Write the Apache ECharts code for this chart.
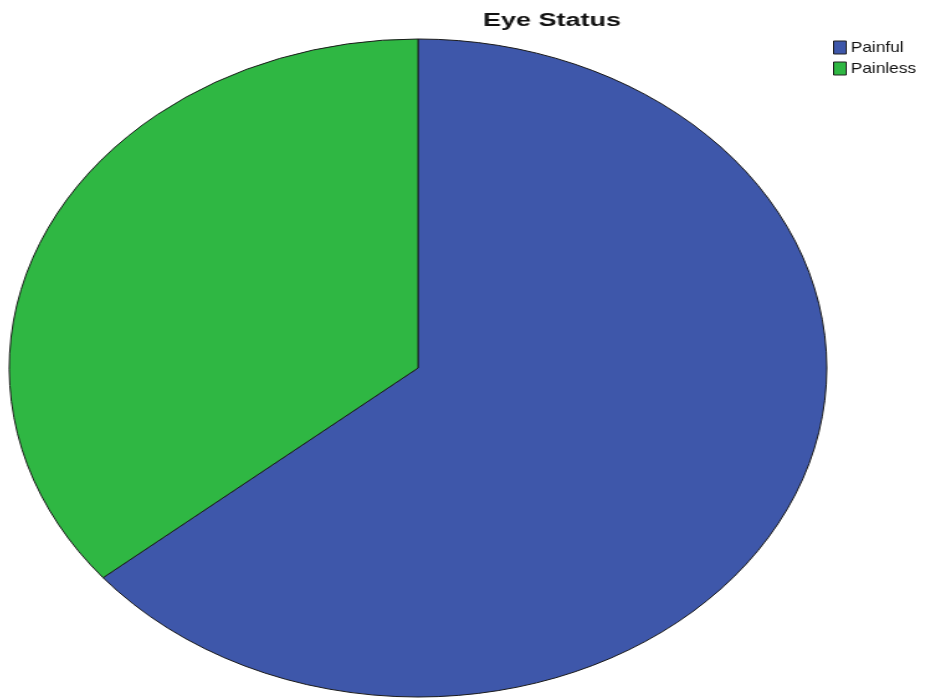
<!DOCTYPE html>
<html>
<head>
<meta charset="utf-8">
<script src="https://cdn.jsdelivr.net/npm/echarts@6/dist/echarts.min.js"></script>
<style>
  html, body { margin: 0; padding: 0; background: #fff; }
  #wrap { position: relative; width: 934px; height: 700px; overflow: hidden; }
  /* the reference is stretched sideways: pie drawn as a circle then widened into the ellipse */
  #pie { position: absolute; left: 88px; top: 38px; width: 660px; height: 660px;
         transform: scaleX(1.2424); transform-origin: 330px 330px; }
  #title { position: absolute; left: 0; top: 0; width: 934px; height: 36px;
           transform: scaleX(1.5); transform-origin: 552px 0; }
  #legend { position: absolute; left: 833px; top: 0; width: 100px; height: 90px;
            transform: scaleX(1.15); transform-origin: 0 0; }
</style>
</head>
<body>
<div id="wrap">
  <div id="pie"></div>
  <div id="title"></div>
  <div id="legend"></div>
</div>
<script>
const categories = ["Painful", "Painless"];
const values = [64, 36];
const colors = ["#3e57aa", "#2fb743"];
const font = "Liberation Sans, Arial, sans-serif";

const pieChart = echarts.init(document.getElementById("pie"));
pieChart.setOption({
  animation: false,
  series: [
    {
      type: "pie",
      center: ["50%", "50%"],
      radius: [0, 329],
      startAngle: 90,
      clockwise: true,
      label: { show: false },
      labelLine: { show: false },
      emphasis: { disabled: true },
      itemStyle: { borderColor: "#1a1a1a", borderWidth: 1 },
      data: categories.map((name, i) => ({
        name: name,
        value: values[i],
        itemStyle: { color: colors[i] },
      })),
    },
  ],
});

const titleChart = echarts.init(document.getElementById("title"));
titleChart.setOption({
  animation: false,
  title: {
    text: "Eye Status",
    left: 552,
    top: 12,
    padding: 0,
    textAlign: "center",
    textStyle: { fontFamily: font, fontWeight: "bold", fontSize: 18, color: "#111" },
  },
});

const legendChart = echarts.init(document.getElementById("legend"));
legendChart.setOption({
  animation: false,
  legend: {
    orient: "vertical",
    left: 0,
    top: 40,
    padding: 0,
    itemWidth: 11,
    itemHeight: 13,
    itemGap: 6,
    icon: "rect",
    selectedMode: false,
    textStyle: { fontFamily: font, fontSize: 15, color: "#111", padding: [0, 0, 0, -1] },
    data: categories.map((name, i) => ({
      name: name,
      itemStyle: { color: colors[i], borderColor: "#222", borderWidth: 1, opacity: 1 },
    })),
  },
  series: [
    {
      type: "pie",
      radius: 0,
      silent: true,
      label: { show: false },
      data: categories.map((name, i) => ({ name: name, value: values[i], itemStyle: { color: colors[i] } })),
    },
  ],
});
</script>
</body>
</html>
